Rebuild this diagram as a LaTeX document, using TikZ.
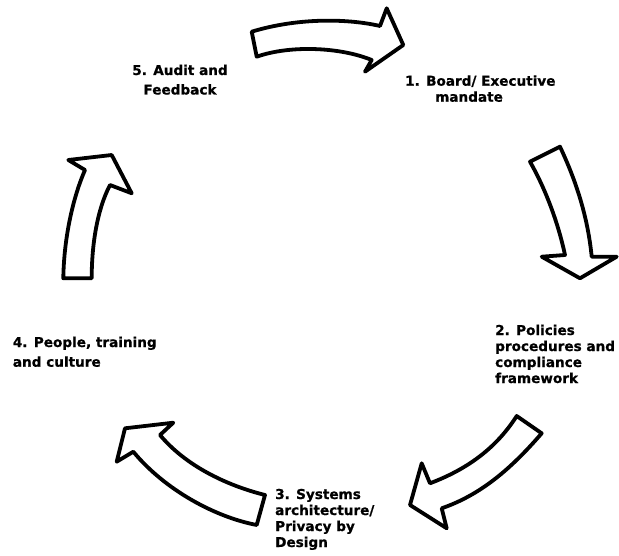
\documentclass[tikz,border=0pt]{standalone}
\usepackage{fontspec}
\setmainfont{DejaVu Sans}[BoldFeatures={FakeBold=0.8}]
\begin{document}
\begin{tikzpicture}[x=1pt,y=-1pt,
  cyclearrow/.style={draw=black,fill=white,line width=3.8pt,line join=round},
  steplabel/.style={font=\bfseries\fontsize{13.6}{16}\selectfont,inner sep=0pt,anchor=base west,align=left}]
  % canvas
  \fill[white] (0,0) rectangle (619,556);
  \useasboundingbox (0,0) rectangle (619,556);

  % top arrow (5 -> 1)
  \draw[cyclearrow] (251.7,31.7) .. controls (300,17) and (350,19) .. (380,26)
    -- (386.7,8.3) -- (403.3,45) -- (365,71.7) -- (371.7,60)
    .. controls (340,47) and (290,45) .. (256.7,56.7) -- cycle;

  % right arrow (1 -> 2)
  \draw[cyclearrow] (530,161.7) -- (560,146.7)
    .. controls (578,185) and (588,220) .. (591.7,256.7)
    -- (616.7,256.7) -- (580,278.3) -- (541.7,256.7) -- (565,255)
    .. controls (558,222) and (545,188) .. cycle;

  % lower right arrow (2 -> 3)
  \draw[cyclearrow] (516.7,416) -- (541.7,433.3)
    .. controls (510,470) and (480,495) .. (441.7,508.3)
    -- (446.7,528.3) -- (410,505) -- (421.7,463.3) -- (430,483.3)
    .. controls (465,470) and (495,450) .. cycle;

  % lower left arrow (3 -> 4)
  \draw[cyclearrow] (265,495) .. controls (225,485) and (185,465) .. (160,435)
    -- (173.3,422.7) -- (125,428.3) -- (116.7,461.7) -- (133.3,451.7)
    .. controls (165,490) and (215,517) .. (256.7,525) -- cycle;

  % left arrow (4 -> 5)
  \draw[cyclearrow] (63.3,278.3) -- (91.7,278.3)
    .. controls (91.7,245) and (97,210) .. (110,185)
    -- (131.7,193.3) -- (111.7,155) -- (68.3,160) -- (85,170)
    .. controls (74,195) and (64,235) .. cycle;

  % step labels (each placed by the baseline of its last line)
  \node[steplabel,anchor=base,align=center] (s5) at (180,94.5) {5. Audit and\\[3.5pt]Feedback};
  \node[steplabel] (s1) at (405,101.7) {1. Board/ Executive\\\hspace*{30pt}mandate};
  \node[steplabel] (s2) at (495,383) {2. Policies\\procedures and\\compliance\\framework};
  \node[steplabel] (s3) at (275,547) {3. Systems\\architecture/\\Privacy by\\Design};
  \node[steplabel] (s4) at (12.7,366.7) {4. People, training\\[3.7pt]and culture};
\end{tikzpicture}
\end{document}
